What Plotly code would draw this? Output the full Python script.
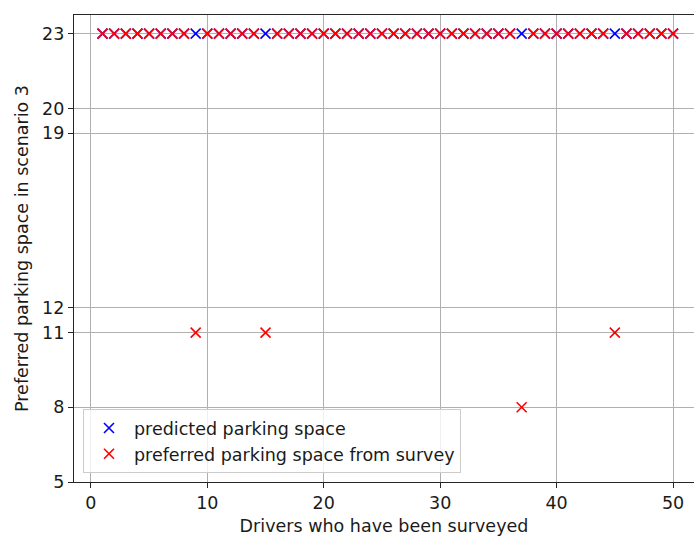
import plotly.graph_objects as go

drivers = list(range(1, 51))
predicted = [23] * 50
preferred = [23] * 50
for d, v in [(9, 11), (15, 11), (37, 8), (45, 11)]:
    preferred[d - 1] = v

y_ticks = [5, 8, 11, 12, 19, 20, 23]
x_ticks = [0, 10, 20, 30, 40, 50]

FS = 17.5
TS = 17.5
font = dict(family="DejaVu Sans", size=FS, color="#1a1a1a")
tfont = dict(family="DejaVu Sans", size=TS, color="#1a1a1a")

fig = go.Figure()
fig.add_trace(go.Scatter(x=drivers, y=predicted, mode="markers", name="predicted parking space",
                         marker=dict(symbol="x-thin", size=10, line=dict(color="blue", width=1.6), color="blue")))
fig.add_trace(go.Scatter(x=drivers, y=preferred, mode="markers", name="preferred parking space from survey",
                         marker=dict(symbol="x-thin", size=10, line=dict(color="red", width=1.6), color="red")))

fig.update_layout(
    width=694, height=536,
    margin=dict(l=74, r=0, t=15, b=54),
    plot_bgcolor="white", paper_bgcolor="white",
    font=font,
    showlegend=True,
    legend=dict(x=0.0145, y=0.019, xanchor="left", yanchor="bottom",
                bgcolor="rgba(255,255,255,0.8)", bordercolor="#cccccc", borderwidth=1,
                font=font, itemwidth=40, tracegroupgap=0),
    xaxis=dict(range=[-1.45, 51.8], tickvals=x_ticks, showgrid=True, gridcolor="#b0b0b0", gridwidth=1,
               showline=True, linecolor="#262626", linewidth=1.2, mirror=True, ticks="outside", ticklen=5,
               tickcolor="#262626", zeroline=False, automargin=False,
               title=dict(text="Drivers who have been surveyed", standoff=9, font=tfont)),
    yaxis=dict(range=[5, 23.75], tickvals=y_ticks, showgrid=True, gridcolor="#b0b0b0", gridwidth=1,
               showline=True, linecolor="#262626", linewidth=1.2, ticks="outside", ticklen=5,
               tickcolor="#262626", zeroline=False, automargin=False,
               title=dict(text="Preferred parking space in scenario 3", standoff=8, font=tfont)),
)

fig.write_html("out.html", post_script="document.body.style.margin='0';",
               config={"displayModeBar": False})
